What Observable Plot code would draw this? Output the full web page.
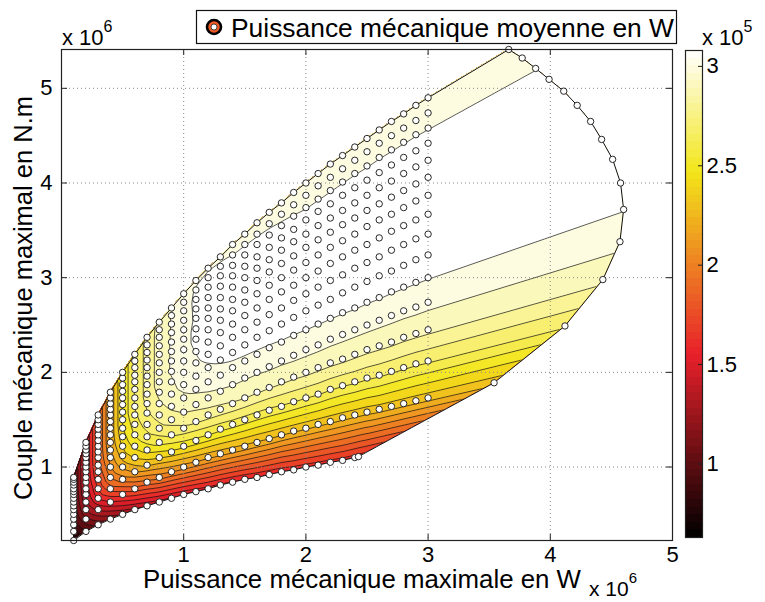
<!DOCTYPE html>
<html><head><meta charset="utf-8">
<script src="https://cdn.jsdelivr.net/npm/d3@7"></script>
<script src="https://cdn.jsdelivr.net/npm/@observablehq/plot@0.6"></script>
<style>
body{margin:0;background:#fff;}
#wrap{position:relative;width:765px;height:602px;font-family:"Liberation Sans",Arial,sans-serif;}
#wrap svg{position:absolute;left:0;top:0;overflow:visible;}
</style></head><body><div id="wrap"></div>
<script>
// ---- data (P in 10^6 W, C in 10^6 N.m, mean power in 10^5 W) ----
const P_COLUMNS = [0.1,0.2,0.3,0.4,0.5,0.6,0.7,0.8,0.9,1.0,1.1,1.2,1.3,1.4,1.5,1.6,1.7,1.8,1.9,2.0,2.1,2.2,2.3,2.4,2.5,2.6,2.7,2.8,2.9,3.0];
const ROW_C = [
 [0.224,0.32,0.39,0.45,0.50,0.55,0.59,0.63,0.67,0.71,0.74,0.77,0.81,0.84,0.87,0.89,0.92,0.95,0.97,1.00,1.02,1.05,1.07,1.10],
 [0.32,0.45,0.55,0.63,0.71,0.77,0.84,0.89,0.95,1.00,1.05,1.10,1.14,1.18,1.22,1.26,1.30,1.34,1.38,1.41,1.45,1.48,1.52,1.55,1.58,1.61,1.64,1.67,1.70,1.73],
 [0.39,0.55,0.67,0.77,0.87,0.95,1.02,1.10,1.16,1.22,1.28,1.34,1.40,1.45,1.50,1.55,1.60,1.64,1.69,1.73,1.77,1.82,1.86,1.90,1.94,1.97,2.01,2.05,2.09,2.12],
 [0.45,0.63,0.77,0.89,1.00,1.10,1.18,1.26,1.34,1.41,1.48,1.55,1.61,1.67,1.73,1.79,1.84,1.90,1.95,2.00,2.05,2.10,2.14,2.19,2.24,2.28,2.32,2.37,2.41,2.45],
 [0.50,0.71,0.87,1.00,1.12,1.22,1.32,1.41,1.50,1.58,1.66,1.73,1.80,1.87,1.94,2.00,2.06,2.12,2.18,2.24,2.29,2.35,2.40,2.45,2.50,2.55,2.60,2.65,2.69,2.74],
 [0.55,0.77,0.95,1.10,1.22,1.34,1.45,1.55,1.64,1.73,1.82,1.90,1.97,2.05,2.12,2.19,2.26,2.32,2.39,2.45,2.51,2.57,2.63,2.68,2.74,2.79,2.85,2.90,2.95,3.00],
 [0.59,0.84,1.02,1.18,1.32,1.45,1.57,1.67,1.77,1.87,1.96,2.05,2.13,2.21,2.29,2.37,2.44,2.51,2.58,2.65,2.71,2.77,2.84,2.90,2.96,3.02,3.07,3.13,3.19,3.24],
 [0.63,0.89,1.10,1.26,1.41,1.55,1.67,1.79,1.90,2.00,2.10,2.19,2.28,2.37,2.45,2.53,2.61,2.68,2.76,2.83,2.90,2.97,3.03,3.10,3.16,3.22,3.29,3.35,3.41,3.46],
 [0.67,0.95,1.16,1.34,1.50,1.64,1.77,1.90,2.01,2.12,2.22,2.32,2.42,2.51,2.60,2.68,2.77,2.85,2.92,3.00,3.07,3.15,3.22,3.29,3.35,3.42,3.49,3.55,3.61,3.67],
 [0.71,1.00,1.22,1.41,1.58,1.73,1.87,2.00,2.12,2.24,2.35,2.45,2.55,2.65,2.74,2.83,2.92,3.00,3.08,3.16,3.24,3.32,3.39,3.46,3.54,3.61,3.67,3.74,3.81,3.87],
 [0.74,1.05,1.28,1.48,1.66,1.82,1.96,2.10,2.22,2.35,2.46,2.57,2.67,2.77,2.87,2.97,3.06,3.15,3.23,3.32,3.40,3.48,3.56,3.63,3.71,3.78,3.85,3.92,3.99,4.06],
 [0.77,1.10,1.34,1.55,1.73,1.90,2.05,2.19,2.32,2.45,2.57,2.68,2.79,2.90,3.00,3.10,3.19,3.29,3.38,3.46,3.55,3.63,3.71,3.79,3.87,3.95,4.02,4.10,4.17,4.24],
 [0.81,1.14,1.40,1.61,1.80,1.97,2.13,2.28,2.42,2.55,2.67,2.79,2.91,3.02,3.12,3.22,3.32,3.42,3.51,3.61,3.70,3.78,3.87,3.95,4.03,4.11,4.19,4.27,4.34,4.42],
 [0.84,1.18,1.45,1.67,1.87,2.05,2.21,2.37,2.51,2.65,2.77,2.90,3.02,3.13,3.24,3.35,3.45,3.55,3.65,3.74,3.83,3.92,4.01,4.10,4.18,4.27,4.35,4.43,4.51,4.58],
 [0.87,1.22,1.50,1.73,1.94,2.12,2.29,2.45,2.60,2.74,2.87,3.00,3.12,3.24,3.35,3.46,3.57,3.67,3.77,3.87,3.97,4.06,4.15,4.24,4.33,4.42,4.50,4.58,4.66,4.74],
 [0.89,1.26,1.55,1.79,2.00,2.19,2.37,2.53,2.68,2.83,2.97,3.10,3.22,3.35,3.46,3.58,3.69,3.79,3.90,4.00,4.10,4.20,4.29,4.38,4.47,4.56,4.65,4.73,4.82,4.90]
];
// last (outer) point of each row: [P, C]
const ROW_END = [[2.43,1.11],[3.54,1.89],[4.12,2.49],[4.43,2.98],[4.57,3.38],[4.60,3.72],[4.575,4.00],[4.51,4.25],[4.42,4.46],[4.33,4.65],[4.22,4.82],[4.11,4.97],[3.99,5.095],[3.88,5.21],[3.77,5.32],[3.66,5.41]];
// mean mechanical power for each point of each row (last value = outer point)
const ROW_V = [
 [0.65,0.88,1.03,1.13,1.21,1.27,1.32,1.36,1.39,1.42,1.44,1.46,1.48,1.49,1.505,1.51,1.52,1.53,1.54,1.55,1.55,1.56,1.56,1.56,1.56],
 [0.76,1.08,1.32,1.49,1.64,1.76,1.86,1.94,2.005,2.05,2.09,2.12,2.14,2.16,2.18,2.19,2.205,2.21,2.22,2.22,2.23,2.23,2.24,2.24,2.24,2.25,2.25,2.25,2.25,2.25,2.25],
 [0.83,1.20,1.51,1.75,1.95,2.11,2.22,2.31,2.38,2.43,2.47,2.505,2.53,2.55,2.56,2.57,2.58,2.59,2.605,2.605,2.61,2.61,2.61,2.62,2.62,2.62,2.62,2.62,2.62,2.62,2.62],
 [0.87,1.27,1.61,1.91,2.13,2.31,2.44,2.54,2.62,2.68,2.72,2.75,2.77,2.79,2.805,2.81,2.81,2.82,2.82,2.83,2.83,2.83,2.83,2.83,2.83,2.83,2.83,2.83,2.83,2.83,2.83],
 [0.905,1.31,1.67,1.99,2.25,2.43,2.57,2.67,2.75,2.805,2.84,2.87,2.89,2.905,2.91,2.91,2.92,2.92,2.93,2.93,2.93,2.93,2.93,2.93,2.93,2.93,2.93,2.93,2.93,2.93,2.93],
 [0.92,1.34,1.72,2.05,2.31,2.51,2.64,2.74,2.82,2.88,2.92,2.95,2.965,2.975,2.98,2.985,2.99,2.995,2.998,3.001,3.002,3.003,3.004,3.005,3.005,3.005,3.005,3.005,3.005,3.005,3.005],
 [0.93,1.36,1.75,2.09,2.36,2.55,2.69,2.79,2.87,2.93,2.97,2.99,3.01,3.03,3.04,3.045,3.05,3.05,3.055,3.06,3.06,3.06,3.06,3.06,3.06,3.06,3.06,3.06,3.06,3.06,3.06],
 [0.94,1.37,1.77,2.11,2.39,2.58,2.72,2.82,2.89,2.95,2.99,3.02,3.04,3.06,3.07,3.08,3.08,3.08,3.08,3.08,3.08,3.08,3.08,3.08,3.08,3.08,3.08,3.08,3.08,3.08,3.08],
 [0.95,1.38,1.78,2.12,2.41,2.61,2.74,2.84,2.91,2.96,3.002,3.04,3.06,3.07,3.08,3.09,3.09,3.09,3.09,3.09,3.09,3.09,3.09,3.09,3.09,3.09,3.09,3.09,3.09,3.09,3.09],
 [0.95,1.38,1.78,2.12,2.41,2.61,2.74,2.84,2.91,2.97,3.02,3.04,3.06,3.07,3.08,3.09,3.09,3.09,3.09,3.09,3.09,3.09,3.09,3.09,3.09,3.09,3.09,3.09,3.09,3.09,3.09],
 [0.95,1.38,1.78,2.12,2.41,2.61,2.74,2.84,2.91,2.97,3.02,3.04,3.06,3.07,3.08,3.08,3.08,3.08,3.08,3.08,3.08,3.08,3.08,3.08,3.08,3.08,3.08,3.08,3.08,3.08,3.08],
 [0.95,1.38,1.78,2.12,2.41,2.61,2.74,2.84,2.91,2.97,3.01,3.03,3.05,3.06,3.07,3.07,3.07,3.07,3.07,3.07,3.07,3.07,3.07,3.07,3.07,3.07,3.07,3.07,3.07,3.07,3.07],
 [0.95,1.38,1.78,2.12,2.41,2.61,2.74,2.84,2.905,2.95,3.02,3.04,3.04,3.04,3.04,3.04,3.04,3.04,3.04,3.04,3.04,3.04,3.04,3.04,3.04,3.04,3.04,3.04,3.04,3.04,3.04],
 [0.95,1.38,1.78,2.12,2.41,2.61,2.74,2.84,2.905,2.96,3.02,3.04,3.04,3.04,3.035,3.03,3.02,3.01,3.003,2.995,2.995,2.995,2.995,2.995,2.995,2.995,2.995,2.995,2.995,2.995,2.995],
 [0.95,1.38,1.78,2.12,2.41,2.61,2.74,2.84,2.905,2.96,3.01,3.03,3.015,2.999,2.995,2.99,2.985,2.98,2.975,2.97,2.97,2.97,2.97,2.97,2.97,2.97,2.97,2.97,2.97,2.97,2.97],
 [0.95,1.38,1.78,2.12,2.41,2.61,2.74,2.83,2.89,2.95,2.98,2.985,2.98,2.975,2.97,2.965,2.96,2.96,2.96,2.96,2.96,2.96,2.96,2.96,2.96,2.96,2.96,2.96,2.96,2.96,2.96]
];
const LEVELS = [0.6,0.7,0.8,0.9,1.0,1.1,1.2,1.3,1.4,1.5,1.6,1.7,1.8,1.9,2.0,2.1,2.2,2.3,2.4,2.5,2.6,2.7,2.8,2.9,3.0];
const X_TICKS = [1,2,3,4,5];
const Y_TICKS = [1,2,3,4,5];
const CBAR_TICKS = [1,1.5,2,2.5,3];
const CBAR_RANGE = [0.63,3.08];
const X_DOMAIN = [0,5];
const X_LABEL = "Puissance mécanique maximale en W";
const Y_LABEL = "Couple mécanique maximal en N.m";
const LEGEND_LABEL = "Puissance mécanique moyenne en W";

// ---- build points and the (row, column) mesh they form ----
const points = [];
const MESH = [];
ROW_C.forEach((cs, r) => {
  const row = [];
  cs.forEach((c, i) => { row.push(points.length); points.push({P: P_COLUMNS[i], C: c, v: ROW_V[r][i]}); });
  const e = points.length;
  points.push({P: ROW_END[r][0], C: ROW_END[r][1], v: ROW_V[r][cs.length]});
  while (row.length <= P_COLUMNS.length) row.push(e);
  MESH.push(row);
});
const bottomEdge = ROW_C[0].map((c, i) => ({P: P_COLUMNS[i], C: c}));
const arcEdge = ROW_END.map(([P, C]) => ({P, C}));
const topEdge = ROW_C[15].map((c, i) => ({P: P_COLUMNS[i], C: c})).reverse();
const outline = [...bottomEdge, ...arcEdge, ...topEdge, bottomEdge[0]];
const Y_DOMAIN = [d3.min(points, d => d.C), d3.max(points, d => d.C)];

const colorScale = {type: "linear", domain: [CBAR_RANGE[0], 1.549, 2.4675, CBAR_RANGE[1]],
  range: ["#000000", "#e8202a", "#f3e61a", "#ffffff"], interpolate: "rgb", clamp: true};
const SHIFT = 0.1; // each band takes the colour of its upper level
const FW = 765 - 61 - 93, FH = 602 - 49 - 62;
const font = "Liberation Sans, Arial, sans-serif";

// interpolation over the structured (row x column) mesh, cell by cell (bilinear)
function interpolateMesh(index, width, height, X, Y, V) {
  const out = new Float64Array(width * height).fill(NaN);
  const cr = (ax, ay, bx, by) => ax * by - ay * bx;
  const eps = 1e-6;
  function tri(a, b, c) {
    const ax = X[a], ay = Y[a], bx = X[b], by = Y[b], cx = X[c], cy = Y[c];
    const det = (by - cy) * (ax - cx) + (cx - bx) * (ay - cy);
    if (!det) return;
    const x0 = Math.max(0, Math.floor(Math.min(ax, bx, cx))), x1 = Math.min(width - 1, Math.ceil(Math.max(ax, bx, cx)));
    const y0 = Math.max(0, Math.floor(Math.min(ay, by, cy))), y1 = Math.min(height - 1, Math.ceil(Math.max(ay, by, cy)));
    for (let y = y0; y <= y1; y++) for (let x = x0; x <= x1; x++) {
      const px = x + 0.5, py = y + 0.5;
      const l1 = ((by - cy) * (px - cx) + (cx - bx) * (py - cy)) / det;
      const l2 = ((cy - ay) * (px - cx) + (ax - cx) * (py - cy)) / det;
      const l3 = 1 - l1 - l2;
      if (l1 >= -eps && l2 >= -eps && l3 >= -eps) out[y * width + x] = l1 * V[a] + l2 * V[b] + l3 * V[c];
    }
  }
  function quad(a, b, c, d) { // a=(r,i) b=(r,i+1) c=(r+1,i+1) d=(r+1,i)
    const ax = X[a], ay = Y[a];
    const ex = X[b] - ax, ey = Y[b] - ay, fx = X[d] - ax, fy = Y[d] - ay;
    const gx = ax - X[b] + X[c] - X[d], gy = ay - Y[b] + Y[c] - Y[d];
    const k2 = cr(gx, gy, fx, fy), kef = cr(ex, ey, fx, fy);
    const xsA = [X[a], X[b], X[c], X[d]], ysA = [Y[a], Y[b], Y[c], Y[d]];
    const x0 = Math.max(0, Math.floor(Math.min(...xsA))), x1 = Math.min(width - 1, Math.ceil(Math.max(...xsA)));
    const y0 = Math.max(0, Math.floor(Math.min(...ysA))), y1 = Math.min(height - 1, Math.ceil(Math.max(...ysA)));
    const ok = t => t >= -eps && t <= 1 + eps;
    for (let y = y0; y <= y1; y++) for (let x = x0; x <= x1; x++) {
      const hx = x + 0.5 - ax, hy = y + 0.5 - ay;
      const k1 = kef + cr(hx, hy, gx, gy), k0 = cr(hx, hy, ex, ey);
      const uOf = v => { const dx = ex + gx * v, dy = ey + gy * v; return Math.abs(dx) > Math.abs(dy) ? (hx - fx * v) / dx : (hy - fy * v) / dy; };
      let u, v;
      if (Math.abs(k2) < 1e-6) { if (!k1) continue; v = -k0 / k1; u = uOf(v); }
      else {
        let w = k1 * k1 - 4 * k0 * k2; if (w < 0) continue; w = Math.sqrt(w);
        v = (-k1 - w) / (2 * k2); u = uOf(v);
        if (!(ok(u) && ok(v))) { v = (-k1 + w) / (2 * k2); u = uOf(v); }
      }
      if (!(ok(u) && ok(v))) continue;
      out[y * width + x] = (1 - u) * (1 - v) * V[a] + u * (1 - v) * V[b] + u * v * V[c] + (1 - u) * v * V[d];
    }
  }
  for (let r = 0; r + 1 < MESH.length; r++) for (let i = 0; i + 1 < MESH[r].length; i++) {
    const a = MESH[r][i], b = MESH[r][i + 1], c = MESH[r + 1][i + 1], d = MESH[r + 1][i];
    if (a === b) tri(a, c, d); else quad(a, b, c, d);
  }
  // extend outside the mesh (hidden by the clip) with the nearest value in the row, then column
  const rowFilled = new Uint8Array(height);
  for (let y = 0; y < height; y++) {
    const o = y * width;
    let first = -1, last = -1;
    for (let x = 0; x < width; x++) if (!isNaN(out[o + x])) { if (first < 0) first = x; last = x; }
    if (first < 0) continue;
    rowFilled[y] = 1;
    for (let x = 0; x < first; x++) out[o + x] = out[o + first];
    for (let x = last + 1; x < width; x++) out[o + x] = out[o + last];
    let prev = out[o + first];
    for (let x = first; x <= last; x++) { if (isNaN(out[o + x])) out[o + x] = prev; else prev = out[o + x]; }
  }
  for (let y = 0; y < height; y++) {
    if (rowFilled[y]) continue;
    let src = -1;
    for (let d = 1; d < height && src < 0; d++) {
      if (y - d >= 0 && rowFilled[y - d]) src = y - d; else if (y + d < height && rowFilled[y + d]) src = y + d;
    }
    if (src >= 0) for (let x = 0; x < width; x++) out[y * width + x] = out[src * width + x];
  }
  return out;
}

const main = Plot.plot({
  width: 765, height: 602, marginLeft: 61, marginRight: 93, marginTop: 49, marginBottom: 62,
  x: {domain: X_DOMAIN}, y: {domain: Y_DOMAIN},
  color: colorScale,
  style: {fontFamily: font, color: "black", background: "transparent"},
  marks: [
    Plot.contour(points, {x: "P", y: "C", fill: d => d.v + SHIFT, thresholds: LEVELS.map(l => l + SHIFT),
      interpolate: interpolateMesh, pixelSize: 1, stroke: "#111", strokeWidth: 0.7}),
    Plot.gridX(X_TICKS.slice(0, 4), {stroke: "#888", strokeOpacity: 1, strokeDasharray: "1,3"}),
    Plot.gridY(Y_TICKS, {stroke: "#888", strokeOpacity: 1, strokeDasharray: "1,3"}),
    Plot.line(outline, {x: "P", y: "C", stroke: "#111", strokeWidth: 1}),
    Plot.dot(points, {x: "P", y: "C", r: 3.2, fill: "white", stroke: "#111", strokeWidth: 0.9}),
    Plot.tickX(X_TICKS, {insetTop: FH - 6, stroke: "#222"}),
    Plot.tickX(X_TICKS, {insetBottom: FH - 6, stroke: "#222"}),
    Plot.tickY(Y_TICKS, {insetRight: FW - 6, stroke: "#222"}),
    Plot.tickY(Y_TICKS, {insetLeft: FW - 6, stroke: "#222"}),
    Plot.frame({stroke: "#222", strokeWidth: 1.2}),
    Plot.axisX(X_TICKS, {tickSize: 0, tickPadding: 6, fontSize: 22, tickFormat: d => String(d), label: null}),
    Plot.axisY(Y_TICKS, {tickSize: 0, tickPadding: 9, fontSize: 22, tickFormat: d => String(d), label: null})
  ]
});
const wrap = document.getElementById("wrap");
wrap.appendChild(main);

// clip the filled contours to the sampled domain
const xs = main.scale("x"), ys = main.scale("y");
const clipD = d3.line(d => xs.apply(d.P), d => ys.apply(d.C))(outline) + "Z";
const svgns = "http://www.w3.org/2000/svg";
const defs = document.createElementNS(svgns, "defs");
defs.innerHTML = `<clipPath id="domclip"><path d="${clipD}"/></clipPath>`;
main.insertBefore(defs, main.firstChild);
const cg = main.querySelector('g[aria-label="contour"]');
if (cg) {
  const g = document.createElementNS(svgns, "g");
  g.setAttribute("clip-path", "url(#domclip)");
  cg.parentNode.insertBefore(g, cg);
  g.appendChild(cg);
}

// colorbar
const NSTEPS = 64;
const cbSteps = d3.range(NSTEPS).map(i => {
  const lo = CBAR_RANGE[0] + (CBAR_RANGE[1] - CBAR_RANGE[0]) * i / NSTEPS;
  const hi = CBAR_RANGE[0] + (CBAR_RANGE[1] - CBAR_RANGE[0]) * (i + 1) / NSTEPS;
  return {lo, hi, mid: (lo + hi) / 2};
});
const cbar = Plot.plot({
  width: 80, height: 602, marginLeft: 0, marginRight: 63, marginTop: 50, marginBottom: 65,
  x: {domain: [0, 1], axis: null}, y: {domain: CBAR_RANGE, axis: null},
  color: colorScale,
  style: {fontFamily: font, color: "black", background: "transparent"},
  marks: [
    Plot.rect(cbSteps, {x1: 0, x2: 1, y1: "lo", y2: "hi", fill: "mid", shapeRendering: "crispEdges"}),
    Plot.tickY(CBAR_TICKS, {insetLeft: 13, stroke: "#222"}),
    Plot.frame({stroke: "#222", strokeWidth: 1.2}),
    Plot.axisY(CBAR_TICKS, {anchor: "right", tickSize: 0, tickPadding: 4, fontSize: 22, tickFormat: d => String(d), label: null})
  ]
});
cbar.style.left = "685px";
wrap.appendChild(cbar);

// overlay texts and legend
const ov = d3.select(wrap).append("svg").attr("width", 765).attr("height", 602)
  .style("pointer-events", "none").attr("font-family", font).attr("fill", "black");
function expo(x, y, e, fs) {
  const t = ov.append("text").attr("x", x).attr("y", y).attr("font-size", fs);
  t.append("tspan").text("x 10");
  t.append("tspan").attr("dy", -Math.round(fs * 0.6)).attr("font-size", Math.round(fs * 0.72)).text(e);
}
expo(62, 45, "6", 22);
expo(589, 596, "6", 21);
expo(702, 45, "5", 22);
ov.append("text").attr("x", 143).attr("y", 588).attr("font-size", 25)
  .attr("textLength", 438).attr("lengthAdjust", "spacingAndGlyphs").text(X_LABEL);
ov.append("text").attr("transform", "translate(32,500) rotate(-90)").attr("font-size", 25)
  .attr("textLength", 404).attr("lengthAdjust", "spacingAndGlyphs").text(Y_LABEL);
const lg = ov.append("g");
lg.append("rect").attr("x", 196.5).attr("y", 10.5).attr("width", 480).attr("height", 33)
  .attr("fill", "white").attr("stroke", "#111").attr("stroke-width", 1.2);
lg.append("circle").attr("cx", 214).attr("cy", 27).attr("r", 7).attr("fill", "#ef5a24").attr("stroke", "#000").attr("stroke-width", 2.6);
lg.append("circle").attr("cx", 214).attr("cy", 27).attr("r", 3).attr("fill", "white").attr("stroke", "#222").attr("stroke-width", 0.8);
lg.append("text").attr("x", 231).attr("y", 37).attr("font-size", 25)
  .attr("textLength", 443).attr("lengthAdjust", "spacingAndGlyphs").text(LEGEND_LABEL);
</script></body></html>
